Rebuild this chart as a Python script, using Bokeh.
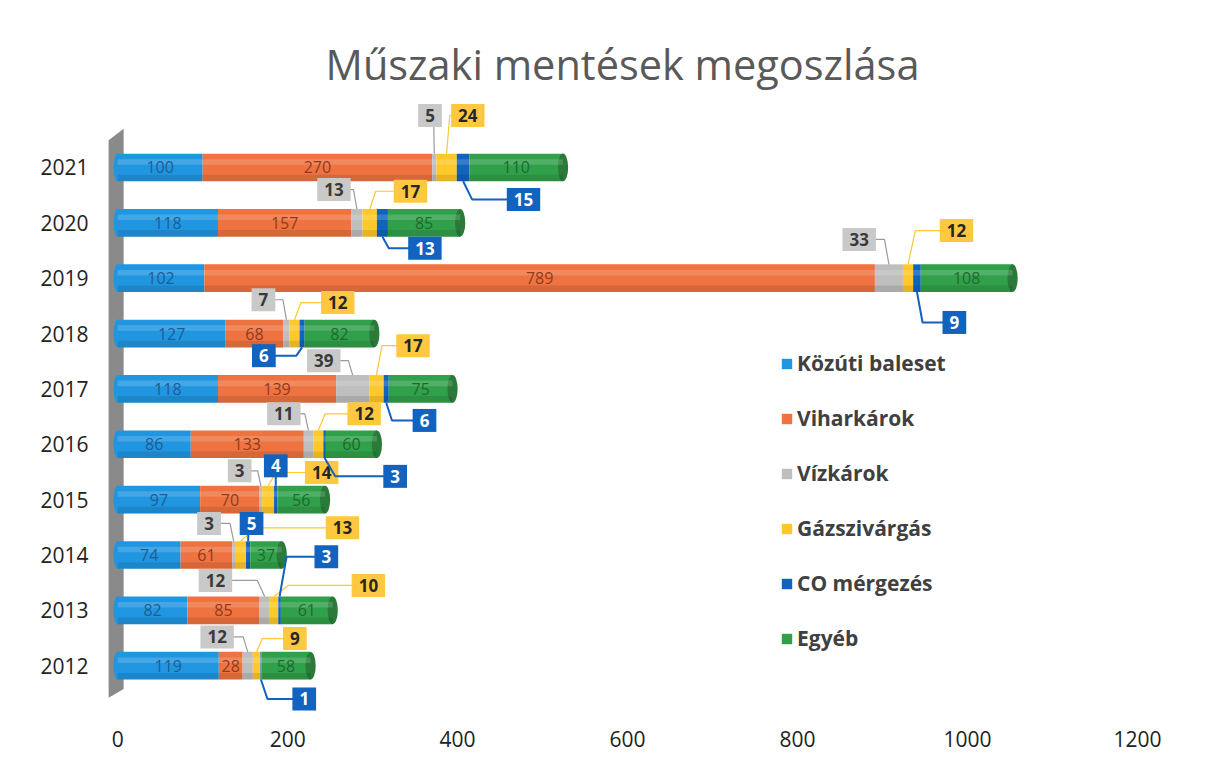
from bokeh.plotting import figure
from bokeh.models import ColumnDataSource, FixedTicker, Legend, LegendItem
from bokeh.core.properties import value
from bokeh.embed import file_html
from bokeh.resources import INLINE

# ---------------- data ----------------
years = ["2012", "2013", "2014", "2015", "2016", "2017", "2018", "2019", "2020", "2021"]
series_names = ["Közúti baleset", "Viharkárok", "Vízkárok", "Gázszivárgás", "CO mérgezés", "Egyéb"]
kozuti = [119, 82, 74, 97, 86, 118, 127, 102, 118, 100]
vihar = [28, 85, 61, 70, 133, 139, 68, 789, 157, 270]
viz = [12, 12, 3, 3, 11, 39, 7, 33, 13, 5]
gaz = [9, 10, 13, 14, 12, 17, 12, 12, 17, 24]
co = [1, 3, 5, 4, 3, 6, 6, 9, 13, 15]
egyeb = [58, 61, 37, 56, 60, 75, 82, 108, 85, 110]
x_ticks = [0, 200, 400, 600, 800, 1000, 1200]

# ---------------- layout of callout labels (offsets from segment centre) ----------------
viz_dx = [-36, -58, -29, -25, -29, -34, -27, -35, -27, -5]
viz_dy = [0.52, 0.54, 0.57, 0.52, 0.55, 0.51, 0.61, 0.70, 0.60, 0.94]
gaz_dx = [45, 111, 120, 63, 54, 43, 51, 57, 48, 25]
gaz_dy = [0.49, 0.45, 0.49, 0.49, 0.55, 0.78, 0.56, 0.86, 0.57, 0.94]
co_dx = [51, 55, 4, 0, 83, 45, -45, 44, 50, 71]
co_dy = [-0.60, 0.97, 0.57, 0.61, -0.58, -0.57, -0.40, -0.80, -0.46, -0.58]

colors = ["#2196E0", "#EE7340", "#BEBEBE", "#FFC82A", "#1262C0", "#31A04A"]
inner_text_colors = ["#1F5C94", "#8E3B1E", None, None, None, "#1E6A2F"]

FONT = "Open Sans"
rows = list(range(len(years)))
series = [kozuti, vihar, viz, gaz, co, egyeb]

p = figure(width=1205, height=752, x_range=(-12, 1200), y_range=(-0.9, 10.3),
           output_backend="svg", toolbar_location=None,
           min_border_left=107, min_border_right=68, min_border_top=95, min_border_bottom=37)
p.frame_width = 1030
p.frame_height = 620

p.title.text = "Műszaki mentések megoszlása"
p.title.text_font = FONT
p.title.text_font_size = "41.5px"
p.title.text_font_style = "normal"
p.title.text_color = "#595959"
p.title.align = "center"
p.title.offset = -14
p.title.standoff = 8

p.outline_line_color = None
p.xgrid.visible = False
p.ygrid.visible = False
p.background_fill_color = "white"

# back wall
p.patch(x=[-10.7, 7, 7, -10.7], y=[9.49, 9.70, -0.42, -0.58], fill_color="#8A8A8A", line_color=None)

# stacked bars
cum = [0] * len(years)
renderers = []
segs = []
for i, vals in enumerate(series):
    left = cum[:]
    right = [c + v for c, v in zip(cum, vals)]
    src = ColumnDataSource(dict(y=rows, left=left, right=right,
                                mid=[(a + b) / 2 for a, b in zip(left, right)],
                                lab=[str(v) for v in vals]))
    r = p.hbar(y="y", left="left", right="right", height=0.5, source=src,
               fill_color=colors[i], line_color=None)
    renderers.append(r)
    segs.append(src)
    cum = right
totals = cum

# cylinder caps and shading
p.ellipse(x=[0] * len(rows), y=rows, width=10, height=0.5, fill_color=colors[0], line_color=None)
p.ellipse(x=totals, y=rows, width=12, height=0.5, fill_color="#2A7A39", line_color=None)
p.hbar(y=[r + 0.1 for r in rows], left=[0] * len(rows), right=totals, height=0.1,
       fill_color="white", fill_alpha=0.16, line_color=None)
p.hbar(y=[r - 0.19 for r in rows], left=[0] * len(rows), right=totals, height=0.12,
       fill_color="black", fill_alpha=0.10, line_color=None)

# inside labels
for i in (0, 1, 5):
    p.text(x="mid", y="y", text="lab", source=segs[i], text_align="center", text_baseline="middle",
           text_font=value(FONT), text_font_size="16px", text_color=inner_text_colors[i])

# callouts
def callout(idx, dxs, dys, box_color, text_color, line_color, line_width):
    src = segs[idx]
    mids = src.data["mid"]
    lx = [m + dx for m, dx in zip(mids, dxs)]
    ly = [r + dy for r, dy in zip(rows, dys)]
    xs, ys = [], []
    for m, r, x0, y0 in zip(mids, rows, lx, ly):
        anchor = r + (0.25 if y0 > r else -0.25)
        knee = m + (x0 - m) * 0.15
        xs.append([x0, knee, m])
        ys.append([y0, y0, anchor])
    p.multi_line(xs=xs, ys=ys, line_color=line_color, line_width=line_width)
    csrc = ColumnDataSource(dict(x=lx, y=ly, t=src.data["lab"]))
    p.text(x="x", y="y", text="t", source=csrc, text_align="center", text_baseline="middle",
           text_font=value(FONT), text_font_size="17px", text_font_style="bold",
           text_color=text_color, background_fill_color=box_color,
           padding=dict(left=7, right=7, top=5, bottom=5))

callout(2, viz_dx, viz_dy, "#C9C9C9", "#3A3A3A", "#9A9A9A", 1.2)
callout(3, gaz_dx, gaz_dy, "#FFC840", "#262626", "#FFC830", 1.2)
callout(4, co_dx, co_dy, "#1262C0", "#FFFFFF", "#1262C0", 2)

# axes
p.xaxis.ticker = FixedTicker(ticks=x_ticks)
p.xaxis.axis_line_color = None
p.xaxis.major_tick_line_color = None
p.xaxis.minor_tick_line_color = None
p.xaxis.major_label_text_font = FONT
p.xaxis.major_label_text_font_size = "21px"
p.xaxis.major_label_text_color = "#222222"
p.xaxis.major_label_standoff = 9

p.yaxis.ticker = FixedTicker(ticks=rows)
p.yaxis.major_label_overrides = {r: y for r, y in zip(rows, years)}
p.yaxis.axis_line_color = None
p.yaxis.major_tick_line_color = None
p.yaxis.minor_tick_line_color = None
p.yaxis.major_label_text_font = FONT
p.yaxis.major_label_text_font_size = "21px"
p.yaxis.major_label_text_color = "#222222"
p.yaxis.major_label_standoff = 13

legend = Legend(items=[LegendItem(label=n, renderers=[r]) for n, r in zip(series_names, renderers)],
                location=(673, 63), orientation="vertical")
legend.glyph_width = 13
legend.glyph_height = 13
legend.label_standoff = 4
legend.spacing = 27
legend.padding = 0
legend.margin = 0
legend.label_text_font = FONT
legend.label_text_font_size = "21px"
legend.label_text_font_style = "bold"
legend.label_text_color = "#404040"
legend.background_fill_alpha = 0
legend.border_line_alpha = 0
p.add_layout(legend, "center")

open("out.html", "w").write(file_html(p, INLINE))
